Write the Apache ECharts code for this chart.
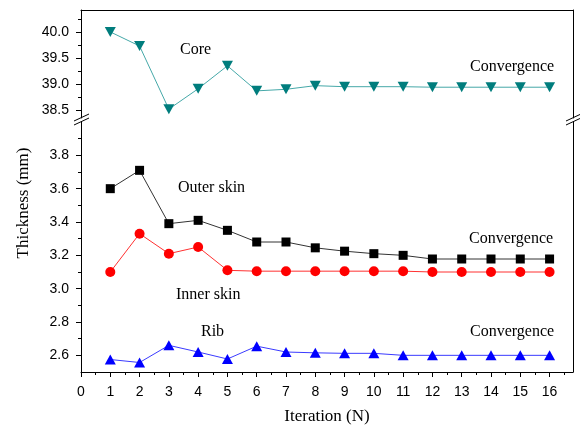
<!DOCTYPE html>
<html>
<head>
<meta charset="utf-8">
<script src="https://cdn.jsdelivr.net/npm/echarts@6/dist/echarts.min.js"></script>
<style>html,body{margin:0;padding:0;background:#fff}#c{width:580px;height:428px}</style>
</head>
<body>
<div id="c"></div>
<script>
const iterations = [1,2,3,4,5,6,7,8,9,10,11,12,13,14,15,16];
const core      = [40.0,39.73,38.52,38.91,39.35,38.87,38.9,38.97,38.95,38.95,38.95,38.94,38.94,38.94,38.94,38.94];
const outerSkin = [3.60,3.71,3.39,3.41,3.35,3.28,3.28,3.245,3.225,3.21,3.20,3.178,3.178,3.178,3.178,3.178];
const innerSkin = [3.10,3.33,3.21,3.25,3.11,3.105,3.105,3.105,3.105,3.105,3.105,3.10,3.10,3.10,3.10,3.10];
const rib       = [2.575,2.557,2.66,2.62,2.578,2.655,2.62,2.615,2.612,2.612,2.60,2.60,2.60,2.60,2.60,2.60];
const xTicks = [0,1,2,3,4,5,6,7,8,9,10,11,12,13,14,15,16];
const xMinor = [0.5,1.5,2.5,3.5,4.5,5.5,6.5,7.5,8.5,9.5,10.5,11.5,12.5,13.5,14.5,15.5,16.5];
const yTopTicks = [38.5,39.0,39.5,40.0];
const yTopMinor = [38.75,39.25,39.75,40.25];
const yBotTicks = [2.6,2.8,3.0,3.2,3.4,3.6,3.8];
const yBotMinor = [2.7,2.9,3.1,3.3,3.5,3.7,3.9];

const pair = (ys) => iterations.map((x,i)=>[x,ys[i]]);
const sans = 'Liberation Sans, Arial, sans-serif';
const serif = 'Liberation Serif, Times New Roman, serif';
const axisLineStyle = {show:true, lineStyle:{color:'#000', width:1}};
const noAxis = {show:false};

const chart = echarts.init(document.getElementById('c'), null, {renderer:'canvas'});
const L = 81, R = 573, T = 10, B = 372, topBot = 118, botTop = 122;

const baseX = {type:'value', min:0, max:16.8, splitLine:{show:false}};
const option = {
  animation:false,
  grid:[
    {left:L, right:580-R, top:T, height:topBot-T, outerBoundsMode:'none', containLabel:false},
    {left:L, right:580-R, top:botTop, height:B-botTop, outerBoundsMode:'none', containLabel:false}
  ],
  xAxis:[
    Object.assign({}, baseX, {gridIndex:0, position:'bottom', axisLine:noAxis, axisTick:{show:false}, axisLabel:{show:false}}),
    Object.assign({}, baseX, {gridIndex:0, position:'top', axisLine:axisLineStyle, axisTick:{show:false}, axisLabel:{show:false}}),
    Object.assign({}, baseX, {gridIndex:1, position:'bottom', axisLine:axisLineStyle,
      axisTick:{show:true, length:5, customValues:xTicks, lineStyle:{color:'#000'}},
      axisLabel:{show:true, customValues:xTicks, margin:13, fontFamily:sans, fontSize:14, color:'#000'},
      name:'Iteration (N)', nameLocation:'middle', nameGap:36,
      nameTextStyle:{fontFamily:serif, fontSize:17, color:'#000'}}),
    Object.assign({}, baseX, {gridIndex:1, position:'bottom', axisLine:noAxis,
      axisTick:{show:true, length:3, customValues:xMinor, lineStyle:{color:'#000'}},
      axisLabel:{show:false}})
  ],
  yAxis:[
    {type:'value', gridIndex:0, position:'left', min:38.35, max:40.42, splitLine:{show:false},
      axisLine:axisLineStyle,
      axisTick:{show:true, length:5, customValues:yTopTicks, lineStyle:{color:'#000'}},
      axisLabel:{show:true, customValues:yTopTicks, margin:12, fontFamily:sans, fontSize:14, color:'#000',
        formatter:(v)=>v.toFixed(1)}},
    {type:'value', gridIndex:0, position:'left', min:38.35, max:40.42, splitLine:{show:false},
      axisLine:noAxis, axisTick:{show:true, length:3, customValues:yTopMinor, lineStyle:{color:'#000'}},
      axisLabel:{show:false}},
    {type:'value', gridIndex:0, position:'right', min:38.35, max:40.42, splitLine:{show:false},
      axisLine:axisLineStyle, axisTick:{show:false}, axisLabel:{show:false}},
    {type:'value', gridIndex:1, position:'left', min:2.5, max:4.0, splitLine:{show:false},
      axisLine:axisLineStyle,
      axisTick:{show:true, length:5, customValues:yBotTicks, lineStyle:{color:'#000'}},
      axisLabel:{show:true, customValues:yBotTicks, margin:12, fontFamily:sans, fontSize:14, color:'#000',
        formatter:(v)=>v.toFixed(1)}},
    {type:'value', gridIndex:1, position:'left', min:2.5, max:4.0, splitLine:{show:false},
      axisLine:noAxis, axisTick:{show:true, length:3, customValues:yBotMinor, lineStyle:{color:'#000'}},
      axisLabel:{show:false}},
    {type:'value', gridIndex:1, position:'right', min:2.5, max:4.0, splitLine:{show:false},
      axisLine:axisLineStyle, axisTick:{show:false}, axisLabel:{show:false}}
  ],
  series:[
    {name:'Core', type:'line', xAxisIndex:0, yAxisIndex:0, data:pair(core),
      symbol:'triangle', symbolRotate:180, symbolSize:[11,10],
      itemStyle:{color:'#007d7d'}, lineStyle:{color:'#45a8a8', width:1}},
    {name:'Outer skin', type:'line', xAxisIndex:2, yAxisIndex:3, data:pair(outerSkin),
      symbol:'rect', symbolSize:9,
      itemStyle:{color:'#000'}, lineStyle:{color:'#333', width:1}},
    {name:'Inner skin', type:'line', xAxisIndex:2, yAxisIndex:3, data:pair(innerSkin),
      symbol:'circle', symbolSize:10,
      itemStyle:{color:'#ff0000'}, lineStyle:{color:'#ff3030', width:1}},
    {name:'Rib', type:'line', xAxisIndex:2, yAxisIndex:3, data:pair(rib),
      symbol:'triangle', symbolSize:[11,10],
      itemStyle:{color:'#0000ff'}, lineStyle:{color:'#3a3aff', width:1}}
  ],
  graphic:[
    {type:'text', left:180, top:42, style:{text:'Core', font:'16px '+serif, fill:'#000'}},
    {type:'text', left:470, top:59, style:{text:'Convergence', font:'16px '+serif, fill:'#000'}},
    {type:'text', left:178, top:180, style:{text:'Outer skin', font:'16px '+serif, fill:'#000'}},
    {type:'text', left:176, top:287, style:{text:'Inner skin', font:'16px '+serif, fill:'#000'}},
    {type:'text', left:469, top:231, style:{text:'Convergence', font:'16px '+serif, fill:'#000'}},
    {type:'text', left:201, top:324, style:{text:'Rib', font:'16px '+serif, fill:'#000'}},
    {type:'text', left:470, top:324, style:{text:'Convergence', font:'16px '+serif, fill:'#000'}},
    {type:'text', x:24, y:203, rotation:Math.PI/2,
      style:{text:'Thickness (mm)', font:'17px '+serif, fill:'#000', align:'center', verticalAlign:'middle'}},
    {type:'line', shape:{x1:74, y1:121, x2:89, y2:114}, style:{stroke:'#000', lineWidth:1}},
    {type:'line', shape:{x1:74, y1:125, x2:89, y2:118}, style:{stroke:'#000', lineWidth:1}},
    {type:'line', shape:{x1:566, y1:121, x2:581, y2:114}, style:{stroke:'#000', lineWidth:1}},
    {type:'line', shape:{x1:566, y1:125, x2:581, y2:118}, style:{stroke:'#000', lineWidth:1}}
  ]
};
chart.setOption(option);
</script>
</body>
</html>
